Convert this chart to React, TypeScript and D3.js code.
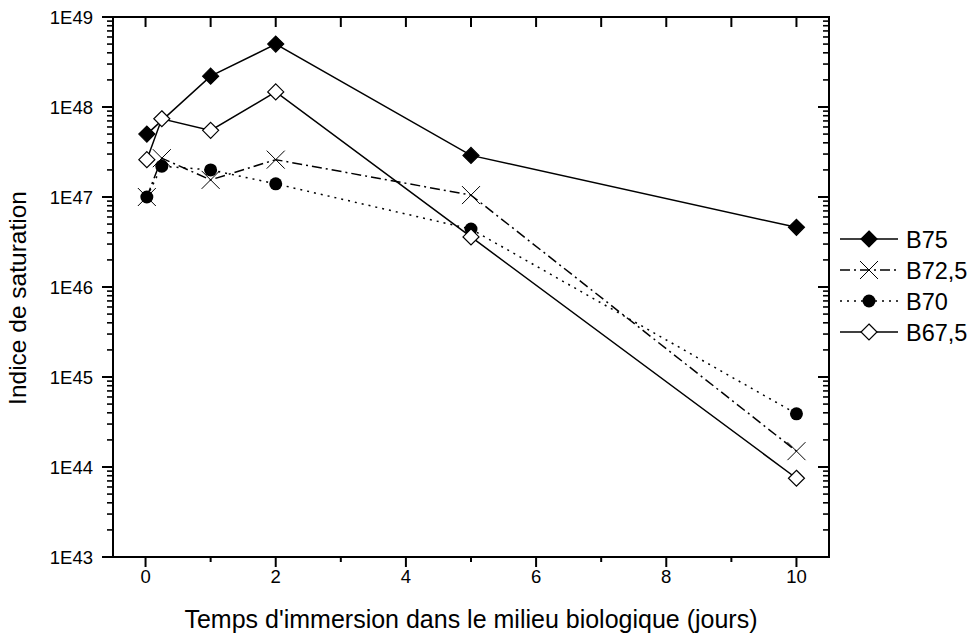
import React from "react";
import * as d3 from "d3";

const seriesNames = ["B75", "B72,5", "B70", "B67,5"];
const xDays = [0.02, 0.25, 1, 2, 5, 10];
const b75: (number | null)[] = [5e47, null, 2.2e48, 5e48, 2.9e47, 4.6e46];
const b725: (number | null)[] = [1e47, 2.7e47, 1.55e47, 2.6e47, 1.05e47, 1.5e44];
const b70: (number | null)[] = [1e47, 2.2e47, 2.0e47, 1.4e47, 4.4e46, 3.9e44];
const b675: (number | null)[] = [2.6e47, 7.4e47, 5.5e47, 1.47e48, 3.6e46, 7.5e43];
const xTicks = [0, 2, 4, 6, 8, 10];
const yTickExps = [43, 44, 45, 46, 47, 48, 49];

const W = 976, H = 641;
const L = 113, R = 829, T = 17, B = 557;

type Marker = "diamondFill" | "x" | "circle" | "diamondOpen";
const styles: { dash: string; marker: Marker }[] = [
  { dash: "none", marker: "diamondFill" },
  { dash: "10 4 2 4", marker: "x" },
  { dash: "2 5", marker: "circle" },
  { dash: "none", marker: "diamondOpen" },
];

function MarkerShape({ type, x, y }: { type: Marker; x: number; y: number }) {
  const s = 8;
  if (type === "diamondFill" || type === "diamondOpen") {
    return (
      <path
        d={`M${x},${y - s}L${x + s},${y}L${x},${y + s}L${x - s},${y}Z`}
        fill={type === "diamondFill" ? "#000" : "#fff"}
        stroke="#000"
        strokeWidth={1.2}
      />
    );
  }
  if (type === "x") {
    const k = 9;
    return (
      <path d={`M${x - k},${y - k}L${x + k},${y + k}M${x - k},${y + k}L${x + k},${y - k}`} stroke="#000" strokeWidth={1} fill="none" />
    );
  }
  return <circle cx={x} cy={y} r={6.5} fill="#000" />;
}

export default function App() {
  const x = d3.scaleLinear().domain([-0.5, 10.5]).range([L, R]);
  const y = d3.scaleLog().domain([1e43, 1e49]).range([B, T]);
  const allSeries = [b75, b725, b70, b675];
  const font = "'Liberation Sans', Arial, sans-serif";

  const minorY: number[] = [];
  for (let e = 43; e < 49; e++) for (let m = 2; m <= 9; m++) minorY.push(m * Math.pow(10, e));
  const minorX = [1, 3, 5, 7, 9];
  const allXInts = d3.range(0, 11);

  return (
    <svg width={W} height={H} style={{ position: "absolute", left: 0, top: 0, background: "#fff" }} fontFamily={font}>
      <rect x={0} y={0} width={W} height={H} fill="#fff" />
      {allSeries.map((vals, si) => {
        const pts = xDays.map((d, i) => [d, vals[i]] as [number, number | null]).filter((p) => p[1] != null) as [number, number][];
        const line = d3.line<[number, number]>().x((p) => x(p[0])).y((p) => y(p[1]));
        return (
          <path key={si} d={line(pts) || ""} fill="none" stroke="#000" strokeWidth={1.5} strokeDasharray={styles[si].dash} />
        );
      })}
      {allSeries.map((vals, si) => (
        <g key={"m" + si}>
          {xDays.map((d, i) =>
            vals[i] == null ? null : <MarkerShape key={i} type={styles[si].marker} x={x(d)} y={y(vals[i] as number)} />
          )}
        </g>
      ))}
      <rect x={L} y={T} width={R - L} height={B - T} fill="none" stroke="#000" strokeWidth={2} />
      {yTickExps.map((e) => (
        <g key={"yl" + e}>
          <line x1={L - 11} x2={L} y1={y(Math.pow(10, e))} y2={y(Math.pow(10, e))} stroke="#000" strokeWidth={2} />
          <line x1={R - 11} x2={R} y1={y(Math.pow(10, e))} y2={y(Math.pow(10, e))} stroke="#000" strokeWidth={2} />
          <text x={93} y={y(Math.pow(10, e)) + 6.5} textAnchor="end" fontSize={18.5}>
            {`1E${e}`}
          </text>
        </g>
      ))}
      {minorY.map((v, i) => (
        <g key={"ym" + i}>
          <line x1={L - 6} x2={L} y1={y(v)} y2={y(v)} stroke="#000" strokeWidth={1.6} />
          <line x1={R - 6} x2={R} y1={y(v)} y2={y(v)} stroke="#000" strokeWidth={1.6} />
        </g>
      ))}
      {xTicks.map((t) => (
        <g key={"xt" + t}>
          <line x1={x(t)} x2={x(t)} y1={B} y2={B + 10} stroke="#000" strokeWidth={2} />
          <text x={x(t)} y={583} textAnchor="middle" fontSize={18.5}>
            {t}
          </text>
        </g>
      ))}
      {minorX.map((t) => (
        <line key={"xm" + t} x1={x(t)} x2={x(t)} y1={B} y2={B + 5} stroke="#000" strokeWidth={2} />
      ))}
      {allXInts.map((t) => (
        <line key={"xtop" + t} x1={x(t)} x2={x(t)} y1={T} y2={T + 10} stroke="#000" strokeWidth={2} />
      ))}
      <text x={471} y={628} textAnchor="middle" fontSize={25}>
        Temps d'immersion dans le milieu biologique (jours)
      </text>
      <text transform={`translate(26,${298}) rotate(-90)`} textAnchor="middle" fontSize={24.5}>
        Indice de saturation
      </text>
      {seriesNames.map((n, i) => {
        const ly = 239 + i * 31;
        return (
          <g key={"lg" + i}>
            <line x1={840} x2={898} y1={ly} y2={ly} stroke="#000" strokeWidth={1.5} strokeDasharray={styles[i].dash} />
            <MarkerShape type={styles[i].marker} x={869} y={ly} />
            <text x={906} y={ly + 8.5} fontSize={23.5}>
              {n}
            </text>
          </g>
        );
      })}
    </svg>
  );
}
